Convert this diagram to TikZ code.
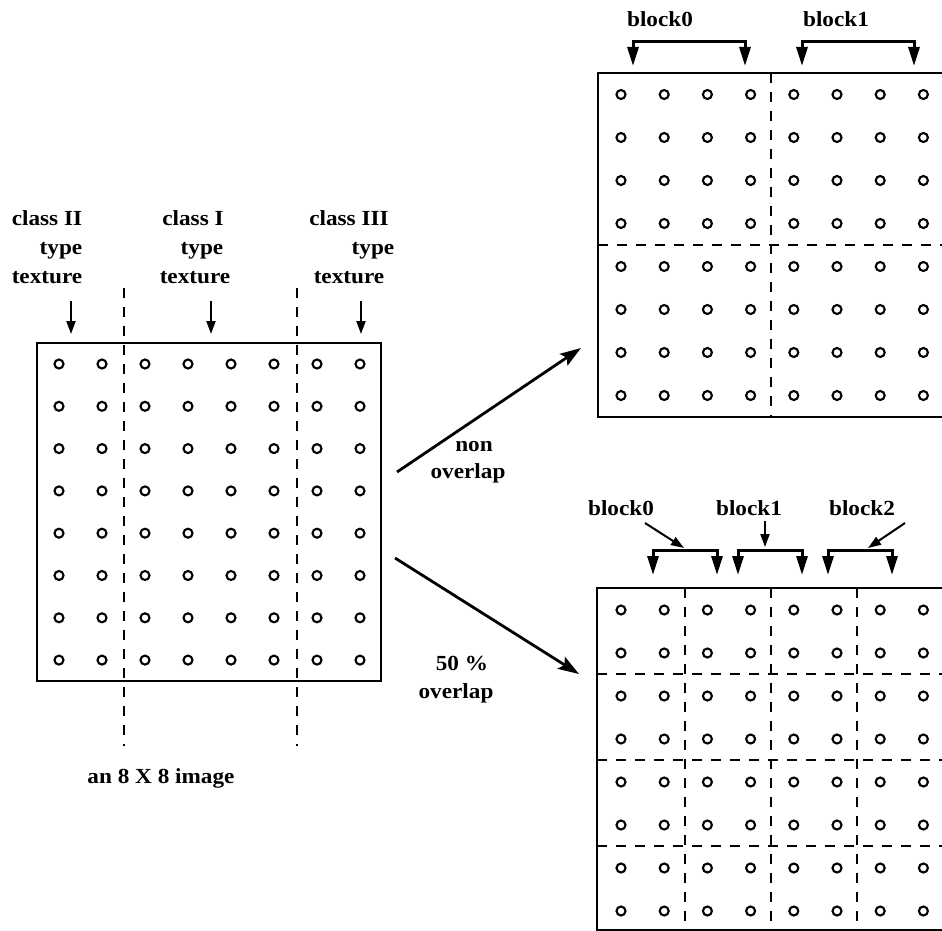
\documentclass[tikz,border=0pt]{standalone}
\usepackage{fontspec}
\setmainfont{Liberation Serif}[FakeStretch=1.08]
\usetikzlibrary{arrows.meta}
\begin{document}
\begin{tikzpicture}[x=1pt,y=-1pt,
 lbl/.style={font=\fontsize{21.5}{25}\selectfont\bfseries, inner sep=0pt, anchor=base},
 dot/.style={circle, draw, line width=2.1pt, minimum size=9pt, inner sep=0pt},
 frame/.style={draw, line width=2.8pt},
 dsh/.style={line width=1.9pt, dash pattern=on 10pt off 9pt},
 ptr/.style={line width=2pt, -{Triangle[length=13pt,width=9pt]}},
 big/.style={line width=2.8pt, -{Stealth[length=21pt,width=14pt,inset=4pt]}},
 brk/.style={line width=3pt, {Triangle[length=19pt,width=11pt]}-{Triangle[length=19pt,width=11pt]}}]
\useasboundingbox (0,0) rectangle (942,931);
\clip (0,0) rectangle (942,931);

% ---------- left 8x8 image ----------
\draw[frame] (37,343) rectangle (381,681);
\foreach \i in {0,...,7}
  \foreach \j in {0,...,7}
    \node[dot] (L\i\j) at ({59+43*\i},{364+42.3*\j}) {};
\draw[dsh] (124,288) -- (124,746);
\draw[dsh] (297,288) -- (297,746);

\node[lbl] (c2) at (47,225) {class II};
\node[lbl] (t2) at (61,254) {type};
\node[lbl] (x2) at (47,283) {texture};
\node[lbl] (c1) at (193,225) {class I};
\node[lbl] (t1) at (202,254) {type};
\node[lbl] (x1) at (195,283) {texture};
\node[lbl] (c3) at (349,225) {class III};
\node[lbl] (t3) at (373,254) {type};
\node[lbl] (x3) at (349,283) {texture};
\coordinate (p2a) at (71,301); \coordinate (p2b) at (71,334);
\coordinate (p1a) at (211,301); \coordinate (p1b) at (211,334);
\coordinate (p3a) at (361,301); \coordinate (p3b) at (361,334);
\draw[ptr] (p2a) -- (p2b);
\draw[ptr] (p1a) -- (p1b);
\draw[ptr] (p3a) -- (p3b);

\node[lbl] (cap) at (161,783) {an 8 X 8 image};

% ---------- arrows ----------
\coordinate (a1s) at (397,472); \coordinate (a1e) at (581,348);
\coordinate (a2s) at (395,558); \coordinate (a2e) at (579,674);
\draw[big] (a1s) -- (a1e);
\draw[big] (a2s) -- (a2e);
\node[lbl] (non) at (474,451) {non};
\node[lbl] (ov1) at (468,478) {overlap};
\node[lbl] (fifty) at (462,670) {50 \%};
\node[lbl] (ov2) at (456,698) {overlap};

% ---------- top right: non overlap ----------
\draw[frame] (598,73) rectangle (946,417);
\foreach \i in {0,...,7}
  \foreach \j in {0,...,7}
    \node[dot] (T\i\j) at ({621+43.2*\i},{94.5+43*\j}) {};
\draw[dsh] (771,73) -- (771,417);
\draw[dsh] (598,245) -- (946,245);

\node[lbl] (tb0) at (660,27) {block0};
\node[lbl] (tb1) at (836,27) {block1};
\draw[brk] (633,66) -- (633,42) -- (745,42) -- (745,66);
\draw[brk] (802,66) -- (802,42) -- (914,42) -- (914,66);

% ---------- bottom right: 50% overlap ----------
\draw[frame] (597,588) rectangle (946,930);
\foreach \i in {0,...,7}
  \foreach \j in {0,...,7}
    \node[dot] (B\i\j) at ({621+43.2*\i},{610+43*\j}) {};
\foreach \x in {685,771,857}
  \draw[dsh] (\x,588) -- (\x,931);
\foreach \y in {674,760,846}
  \draw[dsh] (597,\y) -- (946,\y);

\node[lbl] (bb0) at (621,515) {block0};
\node[lbl] (bb1) at (749,515) {block1};
\node[lbl] (bb2) at (862,515) {block2};
\draw[brk] (653,575) -- (653,550) -- (717,550) -- (717,575);
\draw[brk] (738,575) -- (738,550) -- (802,550) -- (802,575);
\draw[brk] (828,575) -- (828,550) -- (892,550) -- (892,575);
\coordinate (q0a) at (645,523); \coordinate (q0b) at (684,548);
\coordinate (q1a) at (765,521); \coordinate (q1b) at (765,547);
\coordinate (q2a) at (905,523); \coordinate (q2b) at (868,548);
\draw[ptr] (q0a) -- (q0b);
\draw[ptr] (q1a) -- (q1b);
\draw[ptr] (q2a) -- (q2b);
\end{tikzpicture}
\end{document}
